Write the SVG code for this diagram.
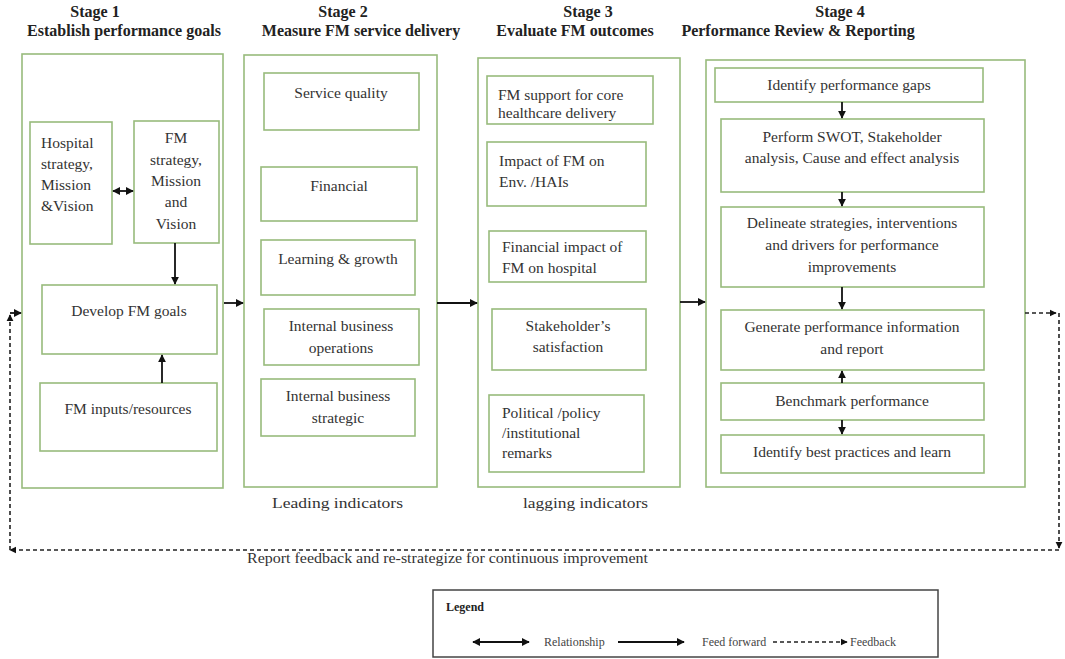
<svg xmlns="http://www.w3.org/2000/svg" width="1065" height="659" viewBox="0 0 1065 659">
<style>
.box{fill:#fff;stroke:#98bb7c;stroke-width:1.6}
.t{font-family:"Liberation Serif","Times New Roman",serif;font-size:15.5px;fill:#333}
.c{text-anchor:middle}
.h{font-family:"Liberation Serif","Times New Roman",serif;font-size:16px;font-weight:bold;fill:#222;text-anchor:middle}
.ln{stroke:#111;stroke-width:1.8;fill:none}
.dl{stroke:#222;stroke-width:1.6;fill:none;stroke-dasharray:4 3}
.lg{font-family:"Liberation Serif","Times New Roman",serif;font-size:12px;fill:#444}
</style>
<defs>
<marker id="ah" viewBox="0 0 10 10" refX="9" refY="5" markerWidth="4.5" markerHeight="4.5" orient="auto-start-reverse"><path d="M0,0 L10,5 L0,10 z" fill="#111"/></marker>
</defs>
<rect width="1065" height="659" fill="#fff"/>

<g id="titles">
<text class="h" x="95" y="17">Stage 1</text>
<text class="h" x="124" y="36">Establish performance goals</text>
<text class="h" x="343" y="17">Stage 2</text>
<text class="h" x="361" y="36">Measure FM service delivery</text>
<text class="h" x="588" y="17">Stage 3</text>
<text class="h" x="575" y="36">Evaluate FM outcomes</text>
<text class="h" x="840" y="17">Stage 4</text>
<text class="h" x="798" y="36">Performance Review &amp; Reporting</text>
</g>

<g id="stage1">
<rect class="box" x="22" y="54" width="201" height="434"/>
<g id="hospital"><rect class="box" x="30" y="122" width="82" height="122"/>
<text class="t" x="41" y="148">Hospital</text><text class="t" x="41" y="169">strategy,</text><text class="t" x="41" y="190">Mission</text><text class="t" x="41" y="211">&amp;Vision</text></g>
<g id="fmstrategy"><rect class="box" x="134" y="121" width="85" height="122"/>
<text class="t c" x="176" y="143">FM</text><text class="t c" x="176" y="165">strategy,</text><text class="t c" x="176" y="186">Mission</text><text class="t c" x="176" y="207">and</text><text class="t c" x="176" y="229">Vision</text></g>
<g id="developgoals"><rect class="box" x="42" y="285" width="175" height="69"/>
<text class="t c" x="129" y="316">Develop FM goals</text></g>
<g id="inputs"><rect class="box" x="40" y="383" width="177" height="68"/>
<text class="t c" x="128" y="414">FM inputs/resources</text></g>
</g>

<g id="stage2">
<rect class="box" x="244" y="55" width="193" height="432"/>
<g id="sq"><rect class="box" x="264" y="73" width="155" height="57"/><text class="t c" x="341" y="98">Service quality</text></g>
<g id="fin"><rect class="box" x="261" y="167" width="156" height="54"/><text class="t c" x="339" y="191">Financial</text></g>
<g id="lg"><rect class="box" x="261" y="240" width="154" height="55"/><text class="t c" x="338" y="264">Learning &amp; growth</text></g>
<g id="ibo"><rect class="box" x="264" y="309" width="155" height="56"/><text class="t c" x="341" y="331">Internal business</text><text class="t c" x="341" y="353">operations</text></g>
<g id="ibs"><rect class="box" x="261" y="379" width="154" height="57"/><text class="t c" x="338" y="401">Internal business</text><text class="t c" x="338" y="423">strategic</text></g>
<text class="t" x="272" y="508" textLength="131" lengthAdjust="spacingAndGlyphs">Leading indicators</text>
</g>

<g id="stage3">
<rect class="box" x="478" y="58" width="202" height="429"/>
<g id="fmsupport"><rect class="box" x="487" y="76" width="166" height="48"/><text class="t" x="498" y="100">FM support for core</text><text class="t" x="498" y="118">healthcare delivery</text></g>
<g id="impact"><rect class="box" x="487" y="142" width="159" height="64"/><text class="t" x="499" y="166">Impact of FM on</text><text class="t" x="499" y="187">Env. /HAIs</text></g>
<g id="finimpact"><rect class="box" x="489" y="231" width="157" height="51"/><text class="t" x="502" y="252">Financial impact of</text><text class="t" x="502" y="273">FM on hospital</text></g>
<g id="stake"><rect class="box" x="492" y="309" width="154" height="61"/><text class="t c" x="568" y="331">Stakeholder’s</text><text class="t c" x="568" y="352">satisfaction</text></g>
<g id="political"><rect class="box" x="489" y="395" width="155" height="77"/><text class="t" x="502" y="418">Political /policy</text><text class="t" x="502" y="438">/institutional</text><text class="t" x="502" y="458">remarks</text></g>
<text class="t" x="523" y="508" textLength="125" lengthAdjust="spacingAndGlyphs">lagging indicators</text>
</g>

<g id="stage4">
<rect class="box" x="706" y="60" width="319" height="427"/>
<g id="gaps"><rect class="box" x="715" y="68" width="268" height="34"/><text class="t c" x="849" y="90">Identify performance gaps</text></g>
<g id="swot"><rect class="box" x="721" y="119" width="263" height="73"/><text class="t c" x="852" y="142">Perform SWOT, Stakeholder</text><text class="t c" x="852" y="163">analysis, Cause and effect analysis</text></g>
<g id="delineate"><rect class="box" x="721" y="207" width="263" height="80"/><text class="t c" x="852" y="228">Delineate strategies, interventions</text><text class="t c" x="852" y="250">and drivers for performance</text><text class="t c" x="852" y="272">improvements</text></g>
<g id="generate"><rect class="box" x="721" y="310" width="263" height="60"/><text class="t c" x="852" y="332">Generate performance information</text><text class="t c" x="852" y="354">and report</text></g>
<g id="benchmark"><rect class="box" x="721" y="383" width="263" height="37"/><text class="t c" x="852" y="406">Benchmark performance</text></g>
<g id="best"><rect class="box" x="721" y="435" width="263" height="38"/><text class="t c" x="852" y="457">Identify best practices and learn</text></g>
</g>

<g id="connectors">
<line class="ln" x1="113" y1="191" x2="133" y2="191" marker-start="url(#ah)" marker-end="url(#ah)"/>
<line class="ln" x1="175" y1="243" x2="175" y2="284" marker-end="url(#ah)"/>
<line class="ln" x1="162" y1="383" x2="162" y2="355" marker-end="url(#ah)"/>
<line class="ln" x1="224" y1="303" x2="243" y2="303" marker-end="url(#ah)"/>
<line class="ln" x1="437" y1="303" x2="477" y2="303" marker-end="url(#ah)"/>
<line class="ln" x1="680" y1="302" x2="705" y2="302" marker-end="url(#ah)"/>
<line class="ln" x1="842" y1="102" x2="842" y2="118" marker-end="url(#ah)"/>
<line class="ln" x1="842" y1="192" x2="842" y2="206" marker-end="url(#ah)"/>
<line class="ln" x1="842" y1="287" x2="842" y2="309" marker-end="url(#ah)"/>
<line class="ln" x1="842" y1="383" x2="842" y2="371" marker-end="url(#ah)"/>
<line class="ln" x1="842" y1="420" x2="842" y2="434" marker-end="url(#ah)"/>
<line class="dl" x1="1025" y1="313" x2="1056" y2="313" marker-end="url(#ah)"/>
<line class="dl" x1="1059" y1="313" x2="1059" y2="548" marker-end="url(#ah)"/>
<line class="dl" x1="1059" y1="550" x2="10" y2="550" marker-end="url(#ah)"/>
<line class="dl" x1="10" y1="550" x2="10" y2="315" marker-end="url(#ah)"/>
<line class="ln" x1="10" y1="313" x2="21" y2="313" marker-end="url(#ah)"/>
<text class="t" x="247" y="563" textLength="401" lengthAdjust="spacingAndGlyphs" style="font-size:14px">Report feedback and re-strategize for continuous improvement</text>
</g>

<g id="legend">
<rect x="433" y="590" width="505" height="67" fill="#fff" stroke="#444" stroke-width="1.5"/>
<text class="lg" x="446" y="611" style="font-weight:bold;fill:#222">Legend</text>
<line class="ln" x1="473" y1="642" x2="529" y2="642" marker-start="url(#ah)" marker-end="url(#ah)"/>
<text class="lg" x="544" y="646">Relationship</text>
<line class="ln" x1="618" y1="642" x2="684" y2="642" marker-end="url(#ah)"/>
<text class="lg" x="702" y="646">Feed forward</text>
<line class="dl" x1="773" y1="642" x2="847" y2="642" marker-end="url(#ah)"/>
<text class="lg" x="850" y="646">Feedback</text>
</g>
</svg>
